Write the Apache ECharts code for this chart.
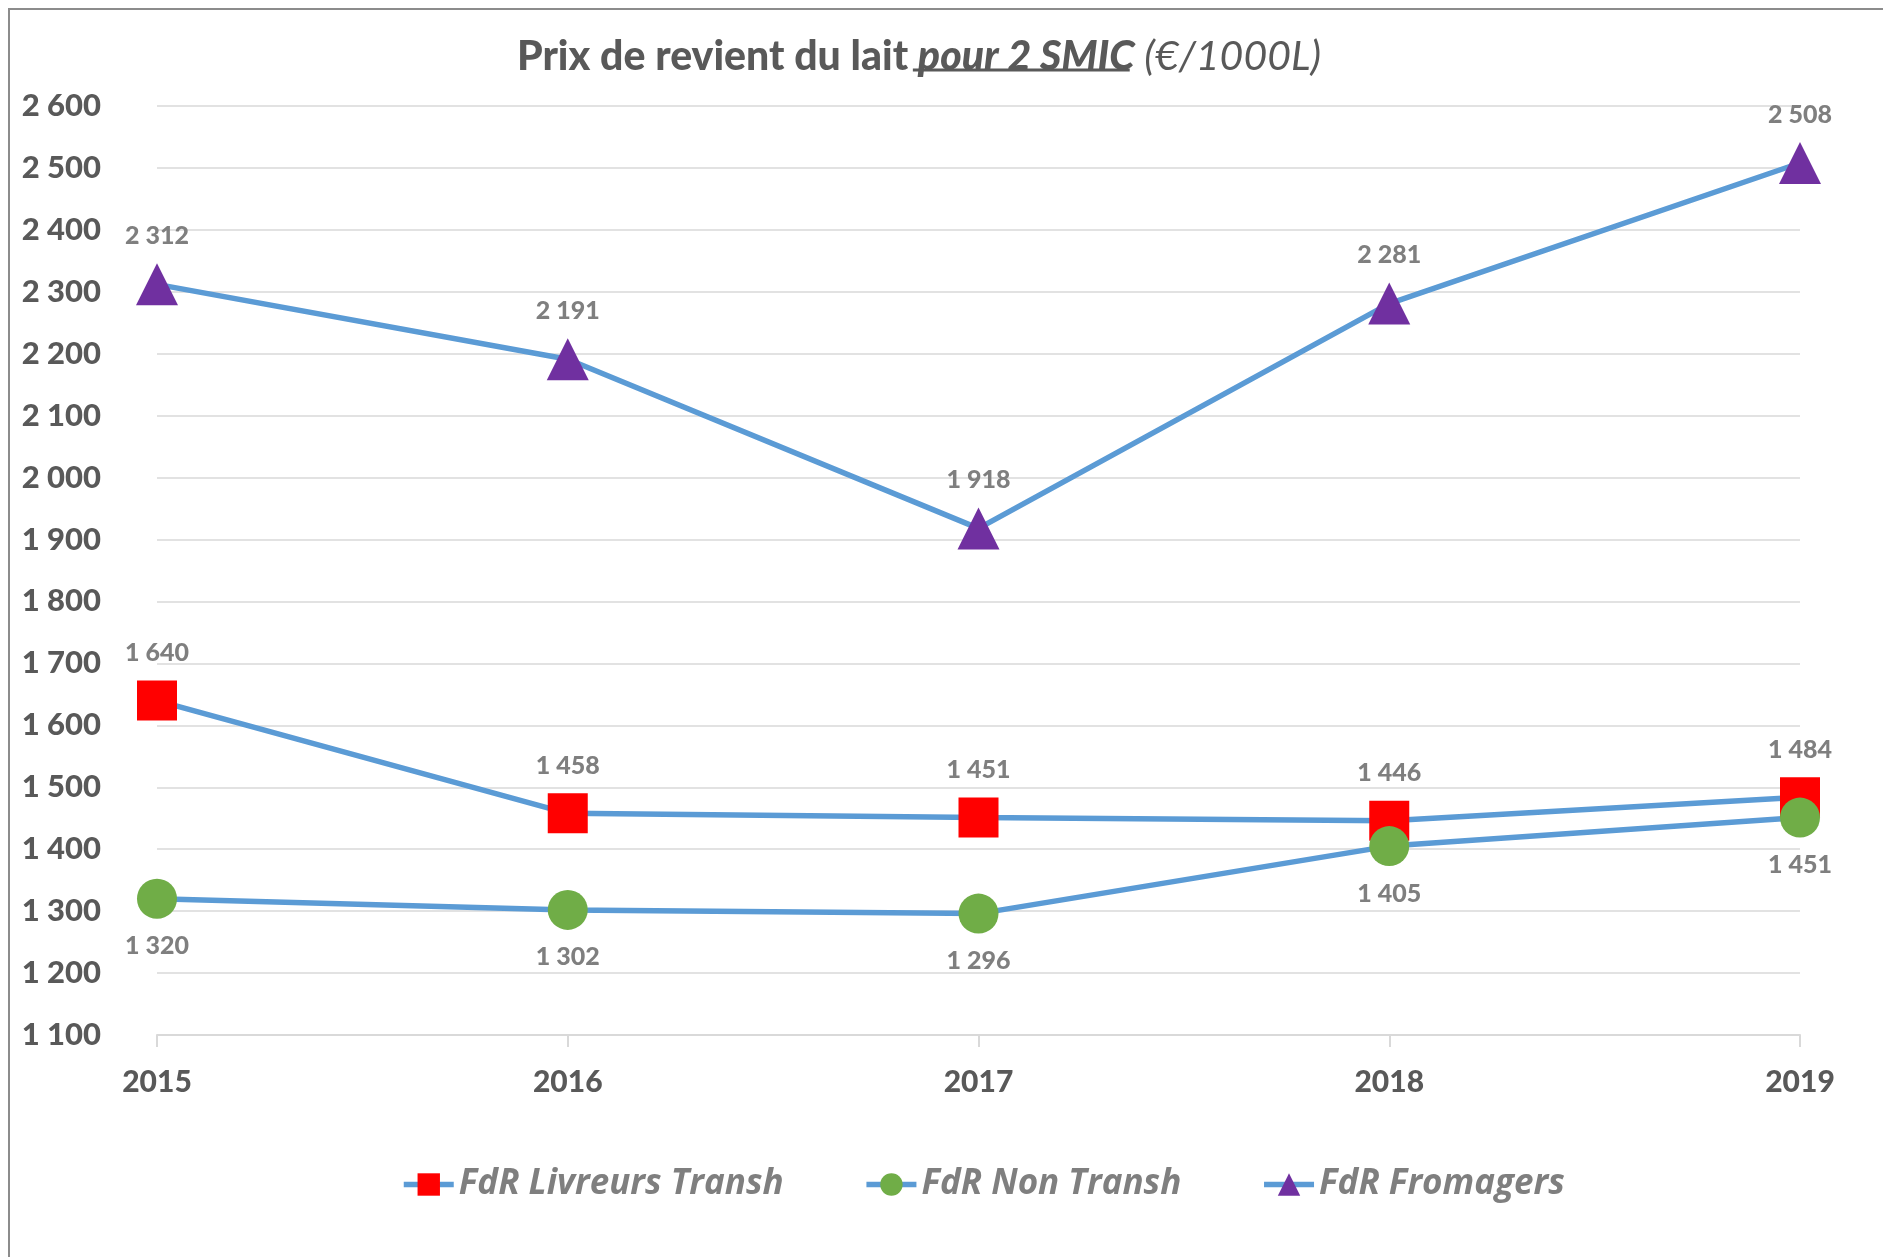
<!DOCTYPE html>
<html>
<head>
<meta charset="utf-8">
<script src="https://cdn.jsdelivr.net/npm/echarts@6/dist/echarts.min.js"></script>
<style>
  html, body { margin: 0; padding: 0; background: #fff; }
  #container { width: 1883px; height: 1257px; }
</style>
</head>
<body>
<div id="container"></div>
<script>
var dom = document.getElementById("container");
var myChart = echarts.init(dom);

// données
var years = ['2015', '2016', '2017', '2018', '2019'];
var livreursTransh = [1640, 1458, 1451, 1446, 1484];
var nonTransh = [1320, 1302, 1296, 1405, 1451];
var fromagers = [2312, 2191, 1918, 2281, 2508];
var seriesNames = ['FdR Livreurs Transh', 'FdR Non Transh', 'FdR Fromagers'];

function fmt(v) {
    return String(v).replace(/\B(?=(\d{3})+(?!\d))/g, ' ');
}

// titre : mesure des morceaux pour centrer et souligner
var titleSize = 41;
var titleParts = ['Prix de revient du lait ', 'pour 2 SMIC', ' (€/1000L)'];
var titleFonts = [
    '900 ' + titleSize + 'px Lato',
    'italic 900 ' + titleSize + 'px Lato',
    'italic normal ' + titleSize + 'px Lato'
];
var ctx = document.createElement('canvas').getContext('2d');
var widths = titleParts.map(function (t, i) {
    ctx.font = titleFonts[i];
    return ctx.measureText(t).width;
});
var totalW = widths[0] + widths[1] + widths[2];
var titleCenter = 914;
var titleLeft = titleCenter - totalW / 2;
var ulStart = titleLeft + widths[0];
var ulEnd = ulStart + widths[1];

var lineColor = '#5b9bd5';
var labelStyle = {
    show: true,
    distance: 15,
    color: '#7f7f7f',
    fontFamily: 'Lato',
    fontWeight: 900,
    fontSize: 25,
    formatter: function (p) { return fmt(p.value); }
};

option = {
    backgroundColor: '#fff',
    title: {
        left: titleLeft,
        top: 31,
        text: '{a|' + titleParts[0] + '}{b|' + titleParts[1] + '}{c|' + titleParts[2] + '}',
        textStyle: {
            fontWeight: 'bold',
            rich: {
                a: { fontFamily: 'Lato', fontWeight: 900, fontSize: titleSize, color: '#595959' },
                b: { fontFamily: 'Lato', fontWeight: 900, fontStyle: 'italic', fontSize: titleSize, color: '#595959' },
                c: { fontFamily: 'Lato', fontWeight: 'normal', fontStyle: 'italic', fontSize: titleSize, color: '#595959' }
            }
        }
    },
    graphic: [
        {
            type: 'rect',
            silent: true,
            shape: { x: 9, y: 9, width: 3000, height: 3000 },
            style: { fill: null, stroke: '#8c8c8c', lineWidth: 2 }
        },
        {
            type: 'line',
            silent: true,
            shape: { x1: ulStart, y1: 70, x2: ulEnd, y2: 70 },
            style: { stroke: '#595959', lineWidth: 3 }
        }
    ],
    legend: {
        left: 396,
        top: 1162,
        itemGap: 80,
        itemWidth: 50,
        itemHeight: 28,
        data: seriesNames,
        lineStyle: { width: 5.5, color: lineColor },
        textStyle: {
            color: '#7f7f7f',
            fontFamily: 'Open Sans',
            fontWeight: 'bold',
            fontStyle: 'italic',
            fontSize: 35
        }
    },
    grid: {
        left: 157,
        right: 83,
        top: 106,
        bottom: 222,
        containLabel: false
    },
    xAxis: {
        type: 'category',
        boundaryGap: false,
        data: years,
        axisLine: { lineStyle: { color: '#d9d9d9', width: 2 } },
        axisTick: { show: true, length: 12, lineStyle: { color: '#d9d9d9', width: 2 } },
        axisLabel: {
            margin: 32,
            color: '#595959',
            fontFamily: 'Lato',
            fontWeight: 900,
            fontSize: 30
        }
    },
    yAxis: {
        type: 'value',
        min: 1100,
        max: 2600,
        interval: 100,
        axisLine: { show: false },
        axisTick: { show: false },
        splitLine: { lineStyle: { color: '#d9d9d9', width: 1.5 } },
        axisLabel: {
            margin: 56,
            color: '#595959',
            fontFamily: 'Lato',
            fontWeight: 900,
            fontSize: 31,
            formatter: function (v) { return fmt(v); }
        }
    },
    series: [
        {
            name: seriesNames[0],
            type: 'line',
            data: livreursTransh,
            symbol: 'rect',
            symbolSize: 40,
            lineStyle: { color: lineColor, width: 5.5 },
            itemStyle: { color: '#ff0000' },
            label: Object.assign({}, labelStyle, { position: 'top' })
        },
        {
            name: seriesNames[1],
            type: 'line',
            data: nonTransh,
            symbol: 'circle',
            symbolSize: 40,
            lineStyle: { color: lineColor, width: 5.5 },
            itemStyle: { color: '#70ad47' },
            label: Object.assign({}, labelStyle, { position: 'bottom' })
        },
        {
            name: seriesNames[2],
            type: 'line',
            data: fromagers,
            symbol: 'triangle',
            symbolSize: 42,
            lineStyle: { color: lineColor, width: 5.5 },
            itemStyle: { color: '#7030a0' },
            label: Object.assign({}, labelStyle, { position: 'top' })
        }
    ]
};
if (option && typeof option === "object") {
    myChart.setOption(option, true);
}
</script>
</body>
</html>
